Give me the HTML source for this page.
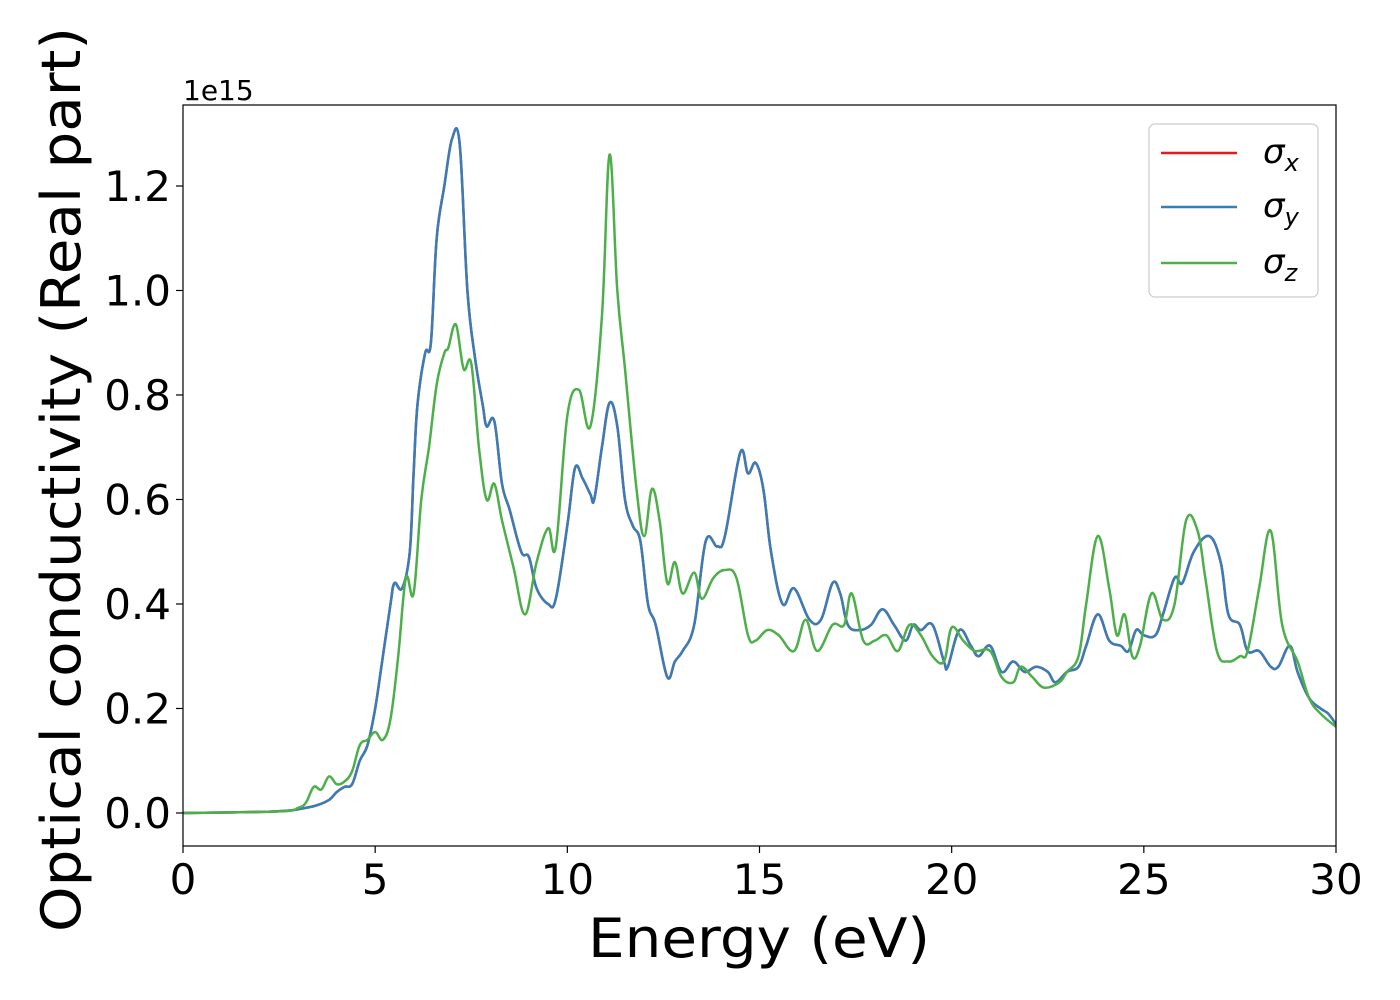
<!DOCTYPE html>
<html><head><meta charset="utf-8"><style>
html,body{margin:0;padding:0;background:#fff;}
svg{display:block;font-family:"DejaVu Sans","Liberation Sans",sans-serif;}
</style></head><body>
<svg id="chart" width="1400" height="1000"></svg>
<script>
const energyXY=[0,2,2.8,3.2,3.5,3.8,4.0,4.2,4.4,4.6,4.8,5.0,5.2,5.4,5.5,5.7,5.9,6.0,6.1,6.3,6.45,6.6,6.8,7.0,7.2,7.4,7.6,7.8,7.9,8.1,8.3,8.5,8.8,9.0,9.2,9.5,9.7,10.0,10.2,10.4,10.6,10.7,10.9,11.1,11.3,11.5,11.7,11.9,12.1,12.3,12.6,12.8,13.0,13.3,13.6,13.9,14.1,14.5,14.7,14.9,15.1,15.3,15.6,15.9,16.3,16.6,16.9,17.1,17.3,17.6,17.9,18.2,18.5,18.8,19.0,19.2,19.5,19.8,19.9,20.2,20.5,20.7,21.0,21.3,21.6,21.9,22.2,22.5,22.7,23.0,23.3,23.5,23.8,24.1,24.4,24.6,24.8,25.0,25.3,25.5,25.8,26.0,26.3,26.7,27.0,27.2,27.5,27.7,28.0,28.3,28.5,28.8,29.0,29.3,29.6,29.8,30];
const sigmaXY=[0,0.002,0.005,0.01,0.015,0.025,0.04,0.05,0.055,0.1,0.13,0.2,0.3,0.4,0.44,0.43,0.5,0.65,0.78,0.88,0.9,1.1,1.2,1.29,1.28,1.0,0.87,0.78,0.74,0.75,0.63,0.58,0.5,0.49,0.43,0.4,0.41,0.55,0.66,0.64,0.61,0.6,0.7,0.785,0.74,0.6,0.55,0.52,0.4,0.36,0.26,0.29,0.31,0.36,0.52,0.51,0.53,0.69,0.65,0.67,0.62,0.5,0.4,0.43,0.37,0.37,0.44,0.42,0.36,0.35,0.36,0.39,0.36,0.33,0.36,0.35,0.36,0.29,0.28,0.35,0.32,0.3,0.32,0.27,0.29,0.27,0.28,0.27,0.25,0.27,0.28,0.32,0.38,0.33,0.32,0.31,0.35,0.34,0.34,0.38,0.45,0.44,0.5,0.53,0.48,0.38,0.36,0.31,0.31,0.28,0.28,0.32,0.27,0.22,0.2,0.19,0.17];
const energyZ=[0,2.5,3.0,3.2,3.4,3.6,3.8,4.0,4.2,4.4,4.6,4.8,5.0,5.2,5.4,5.6,5.8,6.0,6.2,6.4,6.6,6.8,6.9,7.1,7.3,7.5,7.7,7.9,8.1,8.3,8.6,8.9,9.2,9.5,9.7,10.0,10.3,10.6,10.9,11.1,11.3,11.5,11.8,12.0,12.2,12.4,12.6,12.8,13.0,13.3,13.5,13.8,14.1,14.4,14.7,14.9,15.2,15.5,15.9,16.2,16.5,16.9,17.2,17.4,17.7,18.0,18.3,18.6,18.9,19.2,19.5,19.8,20.0,20.3,20.6,21.0,21.3,21.6,21.8,22.1,22.4,22.8,23.0,23.3,23.5,23.8,24.1,24.3,24.5,24.7,24.9,25.2,25.5,25.8,26.1,26.4,26.6,26.9,27.2,27.5,27.7,28.0,28.3,28.6,29.0,29.3,29.6,30];
const sigmaZ=[0,0.003,0.01,0.02,0.05,0.045,0.07,0.055,0.06,0.08,0.13,0.14,0.155,0.14,0.18,0.3,0.45,0.42,0.6,0.7,0.82,0.88,0.89,0.935,0.85,0.86,0.7,0.6,0.63,0.56,0.47,0.38,0.48,0.545,0.51,0.76,0.81,0.74,0.95,1.26,1.0,0.85,0.62,0.53,0.62,0.56,0.44,0.48,0.42,0.46,0.41,0.45,0.465,0.45,0.34,0.33,0.35,0.34,0.31,0.37,0.31,0.36,0.36,0.42,0.33,0.33,0.34,0.31,0.36,0.34,0.3,0.29,0.355,0.33,0.31,0.31,0.26,0.25,0.28,0.26,0.24,0.25,0.27,0.3,0.4,0.53,0.43,0.34,0.38,0.3,0.32,0.42,0.37,0.4,0.56,0.54,0.45,0.31,0.29,0.3,0.31,0.43,0.54,0.36,0.29,0.22,0.19,0.165];
const xTicks=[0,5,10,15,20,25,30];
const yTicks=[0,0.2,0.4,0.6,0.8,1.0,1.2];
const yTickLabels=["0.0","0.2","0.4","0.6","0.8","1.0","1.2"];

const NS="http://www.w3.org/2000/svg";
const svg=document.getElementById('chart');
const L=183,R=1336,T=105,B=846;
const xMin=0,xMax=30,yMin=-0.0632,yMax=1.355;
const sx=v=>L+(v-xMin)/(xMax-xMin)*(R-L);
const sy=v=>B-(v-yMin)/(yMax-yMin)*(B-T);
function mk(tag,attrs,parent){const e=document.createElementNS(NS,tag);for(const k in attrs)e.setAttribute(k,attrs[k]);(parent||svg).appendChild(e);return e;}

const clip=mk('clipPath',{id:'clip'});mk('rect',{x:L,y:T,width:R-L,height:B-T},clip);

function line(xs,ys,color,name){
  const P=xs.map((x,i)=>[sx(x),sy(ys[i])]);
  let d='M'+P[0][0].toFixed(1)+','+P[0][1].toFixed(1);
  for(let i=0;i<P.length-1;i++){
    const p0=P[Math.max(i-1,0)],p1=P[i],p2=P[i+1],p3=P[Math.min(i+2,P.length-1)];
    const t=0.18;
    const c1=[p1[0]+(p2[0]-p0[0])*t,p1[1]+(p2[1]-p0[1])*t];
    const c2=[p2[0]-(p3[0]-p1[0])*t,p2[1]-(p3[1]-p1[1])*t];
    d+='C'+c1[0].toFixed(1)+','+c1[1].toFixed(1)+' '+c2[0].toFixed(1)+','+c2[1].toFixed(1)+' '+p2[0].toFixed(1)+','+p2[1].toFixed(1);
  }
  const p=mk('path',{d:d,fill:'none',stroke:color,'stroke-width':2.5,'stroke-linejoin':'round','clip-path':'url(#clip)'});
  
  
}
line(energyXY,sigmaXY,'#e41a1c','sigma-x-line');
line(energyXY,sigmaXY,'#377eb8','sigma-y-line');
line(energyZ,sigmaZ,'#4daf4a','sigma-z-line');

const frame=mk('rect',{x:L,y:T,width:R-L,height:B-T,fill:'none',stroke:'#000','stroke-width':1.2});



xTicks.forEach(v=>{
  mk('line',{x1:sx(v),x2:sx(v),y1:B,y2:B+7,stroke:'#000','stroke-width':1.2});
  const t=mk('text',{x:sx(v),y:B+48,'text-anchor':'middle','font-size':42});t.textContent=v;
  
  
});
yTicks.forEach((v,i)=>{
  mk('line',{x1:L-7,x2:L,y1:sy(v),y2:sy(v),stroke:'#000','stroke-width':1.2});
  const t=mk('text',{x:L-12,y:sy(v)+15,'text-anchor':'end','font-size':42});t.textContent=yTickLabels[i];
  
  
});
const off=mk('text',{x:183,y:100,'font-size':28});off.textContent='1e15';


const xt=mk('text',{x:588,y:957,'font-size':54,textLength:342,lengthAdjust:'spacingAndGlyphs'});xt.textContent='Energy (eV)';


const yt=mk('text',{x:80,y:932,'font-size':54,textLength:905,lengthAdjust:'spacingAndGlyphs',transform:'rotate(-90 80 932)'});yt.textContent='Optical conductivity (Real part)';



const lg=mk('g',{});


mk('rect',{x:1149,y:124,width:169,height:173,rx:6,fill:'#fff',stroke:'#ccc','stroke-width':1.2},lg);
const entries=[['#e41a1c','x',153],['#377eb8','y',207],['#4daf4a','z',263]];
entries.forEach(([c,s,y])=>{
  const g=mk('g',{},lg);
  
  
  mk('line',{x1:1161,x2:1237,y1:y,y2:y,stroke:c,'stroke-width':2.5},g);
  const t=mk('text',{x:1263,y:y+10,'font-size':34,'font-style':'italic'},g);
  t.textContent='σ';
  const sub=mk('tspan',{'font-size':24,dy:8},t);sub.textContent=s;
});
</script>
</body></html>
